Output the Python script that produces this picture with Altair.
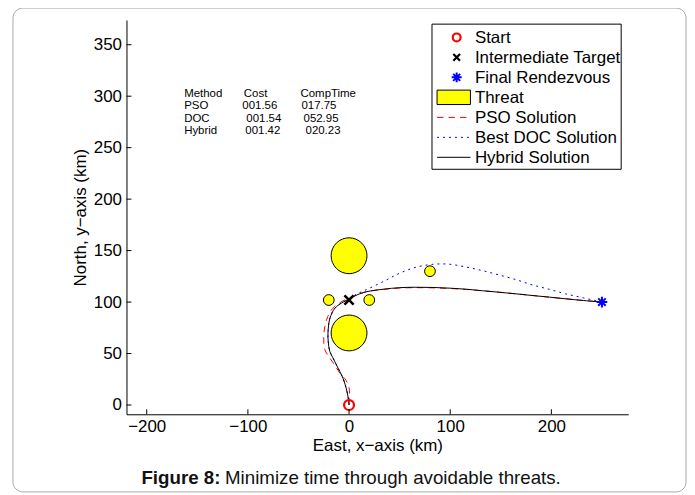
import math
import altair as alt
import pandas as pd

# ---------------- data ----------------
x_ticks = [-200, -100, 0, 100, 200]
y_ticks = [0, 50, 100, 150, 200, 250, 300, 350]

threat_x = [0, 0, -20, 20, 80]
threat_y = [145, 70, 102, 102, 130]
threat_r = [20, 20, 6, 6, 6]

start_x, start_y = [0], [0]
target_x, target_y = [0], [102]
final_x, final_y = [250], [100]

hybrid_x = [0, -1, -3, -6, -12.5, -16, -19, -20.6, -20.8, -19, -14, -7.6, 0, 8, 17, 34,
            50, 66, 83, 100, 116, 132, 148, 165, 181, 198, 214, 232, 250]
hybrid_y = [0, 8, 17, 26, 39, 46, 52, 62, 70, 84, 94, 99, 103, 107, 110, 112.5,
            114, 114.4, 114.2, 113.5, 112.5, 111, 109.6, 108, 106.4, 104.8, 103.2, 101.5, 100]

pso_x = [0, 0.5, 0, -3, -9, -15, -20, -24, -25, -24, -21, -16, -8, 0, 17, 34,
         50, 66, 83, 100, 116, 132, 148, 165, 181, 198, 214, 232, 250]
pso_y = [0, 8, 17, 24, 31, 40, 47, 54, 65, 76, 86, 94, 100, 104, 110, 112.3,
         113.6, 114, 113.8, 113.2, 112.2, 111, 109.6, 108, 106.4, 104.8, 103.2, 101.5, 100]

doc_x = [0, -1, -3, -6, -12.5, -16, -19, -20.6, -20.8, -19, -14, -7.6, 0, 8, 17, 34,
         50, 66, 83, 99, 116, 132, 148, 165, 181, 198, 214, 232, 250]
doc_y = [0, 8, 17, 26, 39, 46, 52, 62, 70, 84, 94, 99, 103, 108, 112, 120,
         128, 133.8, 136.7, 136.8, 134, 130.5, 126.4, 121.8, 116.7, 112.4, 108, 104, 100]

legend_labels = ["Start", "Intermediate Target", "Final Rendezvous", "Threat",
                 "PSO Solution", "Best DOC Solution", "Hybrid Solution"]

table_header = ["Method", "Cost", "CompTime"]
methods = ["PSO", "DOC", "Hybrid"]
costs = ["001.56", "001.54", "001.42"]
comptimes = ["017.75", "052.95", "020.23"]

caption_bold = "Figure 8:"
caption_text = "Minimize time through avoidable threats."
x_title = "East, x\u2212axis (km)"
y_title = "North, y\u2212axis (km)"

# ---------------- layout (data units of the axes) ----------------
X_DOM = [-220, 276]
Y_DOM = [-9, 374]
W, H = 504, 396
PAD_L, PAD_T = 119, 11
legend_box = dict(x=82, x2=269, y=370, y2=229)
legend_rows = [357.1, 337.7, 318.3, 298.9, 279.4, 260.0, 240.6]
legend_sym_x = 106.4
legend_txt_x = 124.4
legend_line = (87, 120)
legend_rect_half = 7.0
table_col_x = [-163, -104, -48]
table_row_y = [302.4, 290.3, 278.3, 266.2]
table_dx = [[0, 0, 0], [0, -1.5, 1], [0, 2.5, 3], [0, 1.5, 5]]

FONT = "Liberation Sans"
FS = 17
XS = alt.Scale(domain=X_DOM, nice=False, zero=False)
YS = alt.Scale(domain=Y_DOM, nice=False, zero=False)
XAX = alt.Axis(values=x_ticks, ticks=False, grid=False, domainColor="black", domainWidth=1,
               labelFont=FONT, labelFontSize=FS, labelColor="black", labelPadding=4,
               titleFont=FONT, titleFontSize=FS, titleFontWeight="normal", titleColor="black",
               titlePadding=3)
YAX = alt.Axis(values=y_ticks, ticks=False, grid=False, domainColor="black", domainWidth=1,
               labelFont=FONT, labelFontSize=FS, labelColor="black", labelPadding=5,
               titleFont=FONT, titleFontSize=FS, titleFontWeight="normal", titleColor="black",
               titlePadding=4)


def XE(f):
    return alt.X(f"{f}:Q", scale=XS, axis=XAX, title=x_title)


def YE(f):
    return alt.Y(f"{f}:Q", scale=YS, axis=YAX, title=y_title)


def path_df(xs, ys):
    return pd.DataFrame({"i": list(range(len(xs))), "x": xs, "y": ys})


one = pd.DataFrame({"a": [0]})

# page frame (decoration), placed relative to the plot origin
fx0, fy0 = 13 - 8 - PAD_L, 7 - 8 - PAD_T
fx1, fy1 = 689 - 8 - PAD_L, 493 - 8 - PAD_T
frame = alt.Chart(one).mark_rect(fillOpacity=0, stroke="#a9a9a9", strokeWidth=1, cornerRadius=10).encode(
    x=alt.value(fx0), x2=alt.value(fx1), y=alt.value(fy0), y2=alt.value(fy1))

# threats
kpx = W / (X_DOM[1] - X_DOM[0])
rmax = max(threat_r)
threats = alt.Chart(pd.DataFrame({"x": threat_x, "y": threat_y, "r": threat_r})).mark_point(
    shape="circle", filled=True, fill="#ffff00", stroke="black", strokeWidth=1, opacity=1,
    fillOpacity=1, strokeOpacity=1).encode(
    x=XE("x"), y=YE("y"),
    size=alt.Size("r:Q", scale=alt.Scale(type="pow", exponent=2, domain=[0, rmax],
                                         range=[0, math.pi * (rmax * kpx) ** 2]), legend=None))


def line_layer(xs, ys, color, dash=None, width=1.0):
    kw = dict(color=color, strokeWidth=width, interpolate="catmull-rom", clip=False)
    if dash:
        kw["strokeDash"] = dash
    return alt.Chart(path_df(xs, ys)).mark_line(**kw).encode(
        x=XE("x"), y=YE("y"), order="i:Q")


doc_line = line_layer(doc_x, doc_y, "#0000ff", [2, 4])
pso_line = line_layer(pso_x, pso_y, "#ff0000", [6.5, 5])
hyb_line = line_layer(hybrid_x, hybrid_y, "#000000")

X_PATH = "M-1,-1L1,1M-1,1L1,-1"
AST_PATH = "M-1,0L1,0M0,-1L0,1M-0.7,-0.7L0.7,0.7M-0.7,0.7L0.7,-0.7"

start_m = alt.Chart(pd.DataFrame({"x": start_x, "y": start_y})).mark_point(
    shape="circle", filled=False, stroke="#ff0000", strokeWidth=2.2, size=100, opacity=1).encode(
    x=XE("x"), y=YE("y"))
target_m = alt.Chart(pd.DataFrame({"x": target_x, "y": target_y})).mark_point(
    shape=X_PATH, filled=False, stroke="black", strokeWidth=2.6, size=85, opacity=1).encode(
    x=XE("x"), y=YE("y"))
final_m = alt.Chart(pd.DataFrame({"x": final_x, "y": final_y})).mark_point(
    shape=AST_PATH, filled=False, stroke="#0000ff", strokeWidth=2, size=115, opacity=1).encode(
    x=XE("x"), y=YE("y"))

# inward ticks
yt = alt.Chart(pd.DataFrame({"t": y_ticks})).mark_rule(color="black", strokeWidth=1).encode(
    y=YE("t"), x=alt.value(0), x2=alt.value(5))
xt = alt.Chart(pd.DataFrame({"t": x_ticks})).mark_rule(color="black", strokeWidth=1).encode(
    x=XE("t"), y=alt.value(H), y2=alt.value(H - 5))

# legend
lbox = alt.Chart(pd.DataFrame([legend_box])).mark_rect(fill="white", stroke="black", strokeWidth=1).encode(
    x=XE("x"), x2="x2:Q", y=YE("y"), y2="y2:Q")
ltext = alt.Chart(pd.DataFrame({"label": legend_labels, "x": [legend_txt_x] * 7, "y": legend_rows})).mark_text(
    align="left", baseline="middle", font=FONT, fontSize=FS, color="black", dy=1).encode(
    x=XE("x"), y=YE("y"), text="label:N")
l_start = alt.Chart(pd.DataFrame({"x": [legend_sym_x], "y": [legend_rows[0]]})).mark_point(
    shape="circle", filled=False, stroke="#ff0000", strokeWidth=2.2, size=62, opacity=1).encode(
    x=XE("x"), y=YE("y"))
l_target = alt.Chart(pd.DataFrame({"x": [legend_sym_x], "y": [legend_rows[1]]})).mark_point(
    shape=X_PATH, filled=False, stroke="black", strokeWidth=2.2, size=45, opacity=1).encode(
    x=XE("x"), y=YE("y"))
l_final = alt.Chart(pd.DataFrame({"x": [legend_sym_x], "y": [legend_rows[2]]})).mark_point(
    shape=AST_PATH, filled=False, stroke="#0000ff", strokeWidth=2, size=100, opacity=1).encode(
    x=XE("x"), y=YE("y"))
l_threat = alt.Chart(pd.DataFrame({"x": [legend_line[0]], "x2": [legend_line[1]],
                                   "y": [legend_rows[3] + legend_rect_half],
                                   "y2": [legend_rows[3] - legend_rect_half]})).mark_rect(
    fill="#ffff00", stroke="black", strokeWidth=1).encode(x=XE("x"), x2="x2:Q", y=YE("y"), y2="y2:Q")


def legend_line_layer(row, color, dash=None, width=1.0):
    kw = dict(color=color, strokeWidth=width)
    if dash:
        kw["strokeDash"] = dash
    return alt.Chart(pd.DataFrame({"x": [legend_line[0]], "x2": [legend_line[1]],
                                   "y": [legend_rows[row]]})).mark_rule(**kw).encode(
        x=XE("x"), x2="x2:Q", y=YE("y"))


l_pso = legend_line_layer(4, "#ff0000", [6.5, 5])
l_doc = legend_line_layer(5, "#0000ff", [2, 4])
l_hyb = legend_line_layer(6, "#333333", None, 1.3)

# results table
cells = []
rows = [table_header] + [[m, c, t] for m, c, t in zip(methods, costs, comptimes)]
for ri, row in enumerate(rows):
    for ci, val in enumerate(row):
        cells.append({"text": val, "x": table_col_x[ci], "y": table_row_y[ri], "dx": table_dx[ri][ci]})
cells_df = pd.DataFrame(cells)
cells_df["x"] = cells_df["x"] + cells_df["dx"]
table = alt.Chart(cells_df).mark_text(align="left", baseline="middle", font=FONT, fontSize=11.5,
                                      color="black").encode(x=XE("x"), y=YE("y"), text="text:N")

# caption
cap1 = alt.Chart(pd.DataFrame({"t": [caption_bold]})).mark_text(
    align="left", baseline="middle", font=FONT, fontSize=18.8, fontWeight="bold", color="#111111").encode(
    x=alt.value(15), y=alt.value(460), text="t:N")
cap2 = alt.Chart(pd.DataFrame({"t": [caption_text]})).mark_text(
    align="left", baseline="middle", font=FONT, fontSize=18.8, color="#111111").encode(
    x=alt.value(99), y=alt.value(460), text="t:N")

chart = alt.layer(
    frame, threats, doc_line, pso_line, hyb_line, start_m, target_m, final_m, yt, xt,
    lbox, l_threat, l_pso, l_doc, l_hyb, l_start, l_target, l_final, ltext, table, cap1, cap2
).properties(
    width=W, height=H,
    autosize=alt.AutoSizeParams(type="none"),
    padding={"left": PAD_L, "top": PAD_T, "right": 682 - PAD_L - W, "bottom": 486 - PAD_T - H},
    background="white",
).configure_view(stroke="transparent")

chart.save("out.html", embed_options={"renderer": "svg", "actions": False})
